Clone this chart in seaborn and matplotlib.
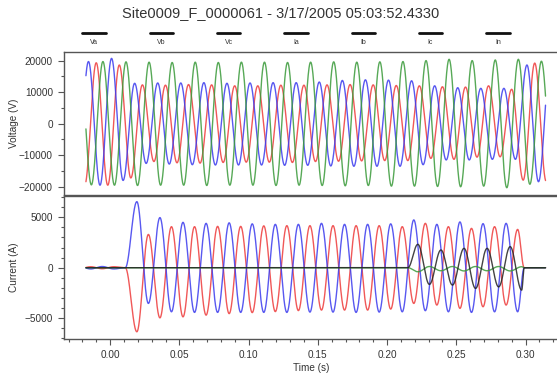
import numpy as np
import pandas as pd
import matplotlib
matplotlib.use("Agg")
import matplotlib.pyplot as plt
from matplotlib.lines import Line2D
from matplotlib.ticker import MultipleLocator, FormatStrFormatter
import seaborn as sns

# -----------------------------
# Waveform data
# each list holds the peak / trough of every half cycle (60 Hz)
# -----------------------------
HALF = 1 / 120
T_START, T_END = -0.0175, 0.3145

# voltages (V)
va_t0 = -0.0184
va_ext = [-19500, 19300, -19500, 18600, -17200, 12300, -12000, 12200, -12400, 12400,
          -12500, 12300, -12300, 12000, -12200, 12000, -12200, 12200, -12300, 12200,
          -12000, 12300, -11900, 12400, -11800, 12300, -11700, 12100, -11700, 12000,
          -11000, 11700, -11300, 11600, -10600, 12000, -10500, 10900, -17900, 19200,
          -18400]
vb_t0 = -0.0240
vb_ext = [-19500, 19700, -19500, 20700, -18000, 12800, -12600, 12900, -12800, 12900,
          -13000, 13000, -13100, 12800, -13100, 12900, -13100, 13000, -13200, 13000,
          -13200, 13200, -13400, 13700, -13500, 13900, -13500, 13800, -13500, 13600,
          -13000, 12000, -11500, 11400, -11500, 11200, -11300, 11200, -11300, 18600,
          -18400, 18000]
vc_t0 = -0.0219
vc_ext = [19500, -19400, 19700, -19500, 19600, -19600, 19500, -19500, 19400, -19500,
          19500, -19600, 19400, -19500, 19500, -19500, 19500, -19600, 19400, -19500,
          19500, -19600, 19600, -19700, 19500, -19600, 19600, -19800, 19700, -19800,
          20000, -19900, 20400, -20000, 20000, -19800, 20200, -20300, 20400, -19200,
          19800, -19500]

# currents (A)
ia_t0 = -0.0224
ia_ext = [-100, 100, -100, 100, 0, -6350, 3300, -4970, 4070, -4870,
          4070, -4700, 4100, -4550, 4100, -4450, 4150, -4350, 4170, -4250,
          4170, -4200, 4170, -4200, 4170, -4200, 4170, -4100, 4070, -3540,
          4400, -3700, 4070, -4030, 3900, -3870, 4070, -3700, 3800]
ib_t0 = -0.0224
ib_ext = [120, -120, 120, -120, 0, 6550, -3540, 4970, -4370, 4500,
          -4430, 4400, -4430, 4450, -4430, 4350, -4430, 4300, -4430, 4300,
          -4400, 4400, -4400, 4300, -4430, 4300, -4400, 4350, -4370, 4740,
          -4260, 4300, -4370, 4540, -4430, 4370, -4370, 4400, -4370]
ic_t0 = 0.2222
ic_ext = [-400, 120, -300, 120, -320, 120, -300, 120, -320, 100]
in_t0 = 0.2222
in_ext = [2320, -1650, 1760, -1720, 1920, -2050, 1920, -1900, 2090, -2220]

NEUTRAL_START = 0.215
FAULT_CLEAR = 0.2990

voltage_labels = ["Va", "Vb", "Vc"]
current_labels = ["Ia", "Ib", "Ic", "In"]
legend_labels = ["Va", "Vb", "Vc", "Ia", "Ib", "Ic", "In"]
colors = {"Va": "#ee3b3b", "Vb": "#3b3bee", "Vc": "#3a9a3a",
          "Ia": "#ee3b3b", "Ib": "#3b3bee", "Ic": "#3a9a3a", "In": "#222222"}


def knots(t0, ext, start=None, end=None):
    tk = list(t0 + HALF * np.arange(len(ext)))
    vk = list(ext)
    if start is not None:
        tk = [T_START - 0.01, start] + tk
        vk = [0, 0] + vk
    if end is not None:
        tk = tk + [end, T_END + 0.01]
        vk = vk + [0, 0]
    return np.array(tk), np.array(vk, float)


def trace(tk, vk, t):
    # smooth half-sine between successive peaks
    idx = np.clip(np.searchsorted(tk, t) - 1, 0, len(tk) - 2)
    f = np.clip((t - tk[idx]) / (tk[idx + 1] - tk[idx]), 0, 1)
    return vk[idx] + (vk[idx + 1] - vk[idx]) * (1 - np.cos(np.pi * f)) / 2


t = np.arange(T_START, T_END, 0.0001)
series = {
    "Va": knots(va_t0, va_ext),
    "Vb": knots(vb_t0, vb_ext),
    "Vc": knots(vc_t0, vc_ext),
    "Ia": knots(ia_t0, ia_ext, end=FAULT_CLEAR),
    "Ib": knots(ib_t0, ib_ext, end=FAULT_CLEAR),
    "Ic": knots(ic_t0, ic_ext, start=NEUTRAL_START, end=FAULT_CLEAR),
    "In": knots(in_t0, in_ext, start=NEUTRAL_START, end=FAULT_CLEAR),
}
df = pd.concat([pd.DataFrame({"time": t, "value": trace(*series[k], t), "phase": k})
                for k in series], ignore_index=True)

# -----------------------------
# Plot
# -----------------------------
sns.set_style("white")
plt.rcParams["font.family"] = ["Liberation Sans", "DejaVu Sans"]
edge = "#555555"

fig = plt.figure(figsize=(5.57, 3.76), dpi=100)
ax_v = fig.add_axes([0.115, 0.481, 0.888, 0.381])
ax_i = fig.add_axes([0.115, 0.098, 0.888, 0.381])

sns.lineplot(data=df[df["phase"].isin(voltage_labels)], x="time", y="value",
             hue="phase", hue_order=voltage_labels, palette=colors,
             estimator=None, sort=False, legend=False, linewidth=1.0, alpha=0.85, ax=ax_v)
sns.lineplot(data=df[df["phase"].isin(current_labels)], x="time", y="value",
             hue="phase", hue_order=current_labels, palette=colors,
             estimator=None, sort=False, legend=False, linewidth=1.0, alpha=0.85, ax=ax_i)

for ax in (ax_v, ax_i):
    ax.set_xlim(-0.0333, 0.3239)
    ax.xaxis.set_major_locator(MultipleLocator(0.05))
    ax.xaxis.set_minor_locator(MultipleLocator(0.01))
    ax.xaxis.set_major_formatter(FormatStrFormatter("%.2f"))
    for s in ax.spines.values():
        s.set_color(edge)
        s.set_linewidth(1.0)
    ax.tick_params(which="both", direction="out", colors=edge, labelcolor="#333333",
                   labelsize=7.2, left=True, bottom=True)
    ax.tick_params(which="major", length=4.5, width=0.8)
    ax.tick_params(which="minor", length=2.5, width=0.8)

ax_v.set_ylim(-22650, 22750)
ax_v.yaxis.set_major_locator(MultipleLocator(10000))
ax_v.yaxis.set_minor_locator(MultipleLocator(5000))
ax_v.tick_params(axis="x", which="both", bottom=False, labelbottom=False)
ax_v.set_xlabel("")
ax_v.set_ylabel("Voltage (V)", fontsize=7.2, color="#333333")
ax_v.yaxis.set_label_coords(-0.091, 0.5)

ax_i.set_ylim(-7080, 7120)
ax_i.yaxis.set_major_locator(MultipleLocator(5000))
ax_i.yaxis.set_minor_locator(MultipleLocator(1000))
ax_i.set_xlabel("Time (s)", fontsize=7.2, color="#333333", labelpad=2)
ax_i.set_ylabel("Current (A)", fontsize=7.2, color="#333333")
ax_i.yaxis.set_label_coords(-0.091, 0.5)

fig.suptitle("Site0009_F_0000061 - 3/17/2005 05:03:52.4330", x=0.503, y=0.985,
             fontsize=10.5, color="#333333")

# channel strip across the top
for k, name in enumerate(legend_labels):
    xc = 0.169 + k * 0.1208
    fig.add_artist(Line2D([xc - 0.021, xc + 0.021], [0.912, 0.912], color="#111111", lw=2))
    fig.text(xc, 0.886, name, ha="center", va="center", fontsize=5, color="#333333")

fig.savefig("out.png", dpi=100)
